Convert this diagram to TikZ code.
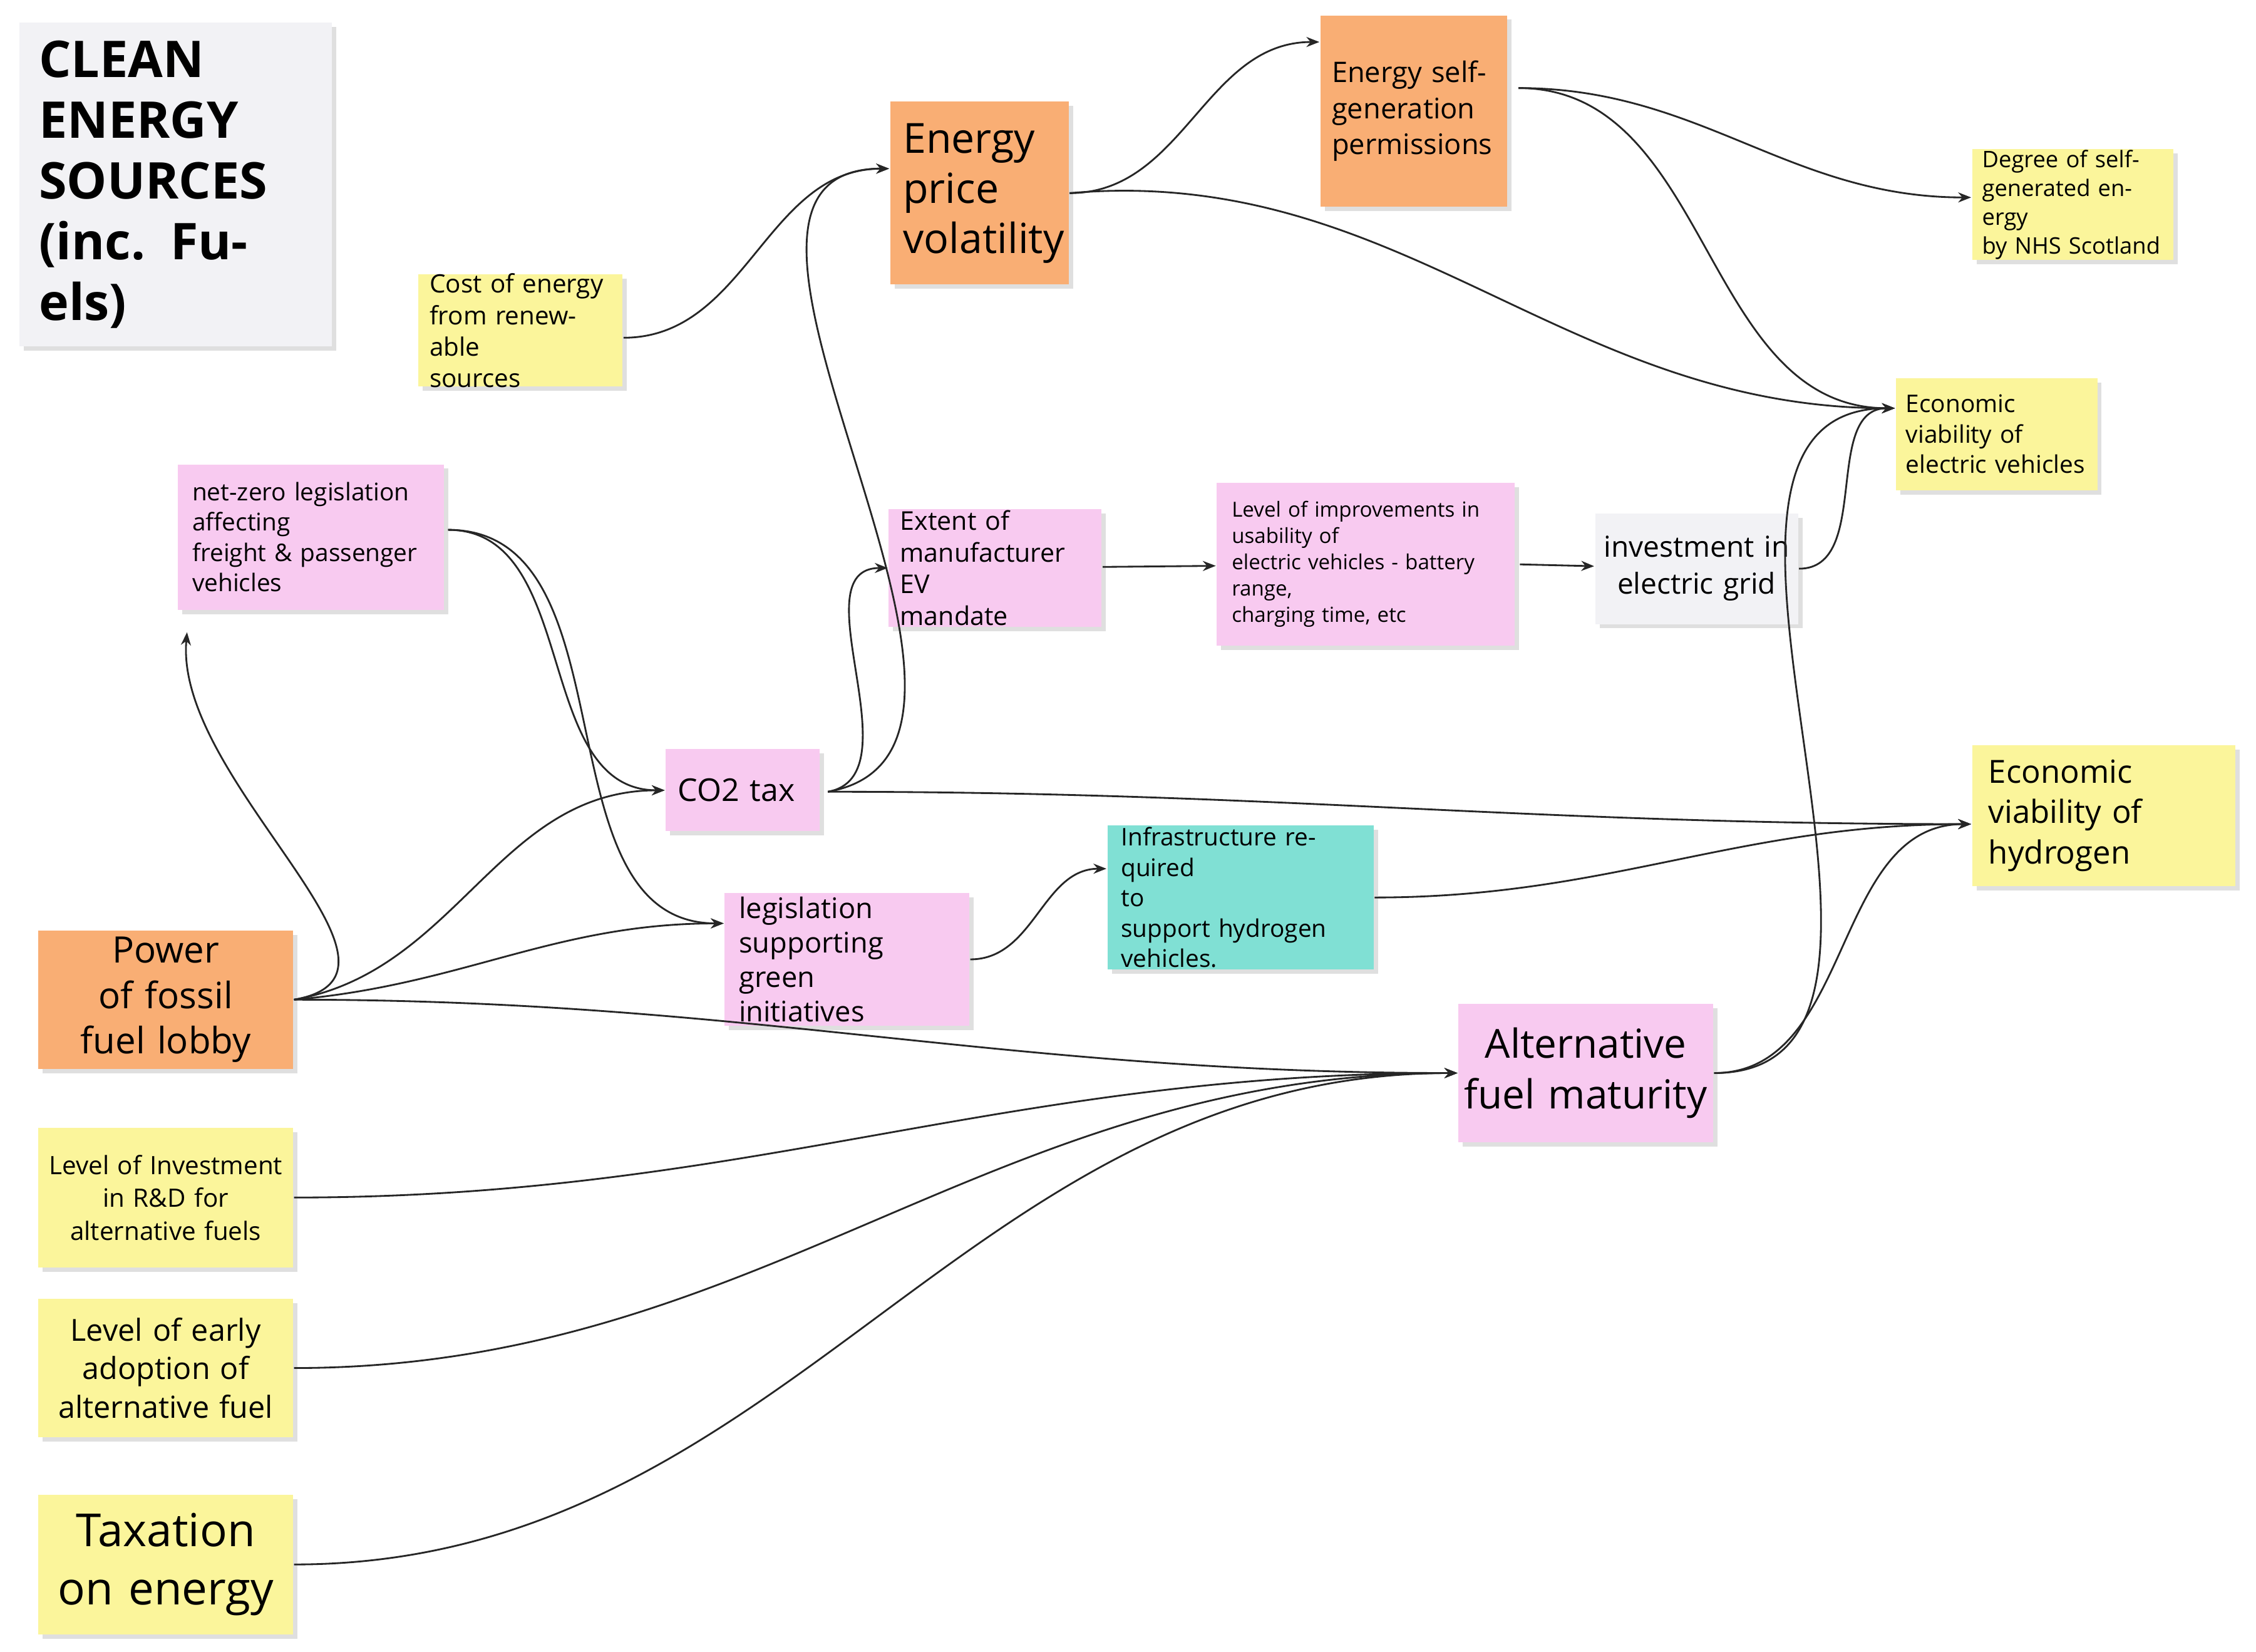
\documentclass[tikz,border=0pt]{standalone}
\usepackage{fontspec}
\setmainfont{Open Sans}
\usetikzlibrary{shadows,arrows.meta}
\definecolor{yel}{HTML}{FBF59B}
\definecolor{org}{HTML}{F9AE74}
\definecolor{pnk}{HTML}{F8CAF0}
\definecolor{gry}{HTML}{F2F2F5}
\definecolor{tea}{HTML}{80E0D4}
\tikzset{
 box/.style={draw=none, inner sep=0pt, anchor=north west, drop shadow={opacity=0.25,shadow xshift=0.03cm,shadow yshift=-0.03cm}, text=black!85},
 ar/.style={-{Stealth[length=0.09cm,width=0.07cm]}, line width=0.35pt, black!85},
 fs/.style n args={2}{font=\fontsize{#1}{#2}\selectfont}
}
\newcommand{\bx}[8]{% name, fill, x1,y1,x2,y2, opts, text
 \node[box,fill=#2,minimum width=#5cm-#3cm,minimum height=#6cm-#4cm] (#1) at (#3,#4) {};
 \node[#7] at (#1.center) {#8};}
\begin{document}
\begin{tikzpicture}[x=0.01cm,y=-0.01cm]
\useasboundingbox[fill=white] (0,0) rectangle (1568,1148);
\def\B#1#2#3#4#5#6#7#8{\node[box,fill=#2,minimum width={(#5-#3)*0.01cm},minimum height={(#6-#4)*0.01cm}] (#1) at (#3,#4) {};
 \node[#7] at (#1.center) {#8};}
\B{title}{gry}{13}{15}{230}{240}{fs={11.5}{13.6},font=\bfseries,align=left,text width=1.9cm}{CLEAN\\ENERGY\\SOURCES\\(inc. Fuels)}
\B{cost}{yel}{290}{190}{432}{268}{fs={5}{6.2},align=left,text width=1.26cm}{Cost of energy\\from renewable\\sources}
\B{epv}{org}{618}{70}{742}{197}{fs={8.2}{9.9},align=left,text width=1.06cm}{Energy\\price\\volatility}
\B{esg}{org}{917}{10}{1047}{143}{fs={5.6}{7.1},align=left,text width=1.14cm}{Energy self-\\generation\\permissions}
\B{deg}{yel}{1370}{103}{1510}{180}{fs={4.5}{5.7},align=left,text width=1.26cm}{Degree of self-\\generated energy\\by NHS Scotland}
\B{ecoev}{yel}{1317}{262}{1457}{340}{fs={4.8}{6},align=left,text width=1.26cm}{Economic\\viability of\\electric vehicles}
\B{nz}{pnk}{123}{322}{308}{423}{fs={4.8}{6},align=left,text width=1.65cm}{net-zero legislation\\affecting\\freight \& passenger\\vehicles}
\B{ext}{pnk}{617}{353}{765}{435}{fs={5.1}{6.3},align=left,text width=1.32cm}{Extent of\\manufacturer EV\\mandate}
\B{lvl}{pnk}{845}{335}{1052}{448}{fs={4.1}{5.2},align=left,text width=1.86cm}{Level of improvements in\\usability of\\electric vehicles - battery\\range,\\charging time, etc}
\B{inv}{gry}{1108}{356}{1249}{433}{fs={5.7}{7.3},align=center,text width=1.3cm}{investment in\\electric grid}
\B{co2}{pnk}{462}{520}{569}{577}{fs={6.2}{7.5},align=left,text width=0.9cm}{CO2 tax}
\B{ecoh}{yel}{1370}{517}{1553}{615}{fs={6.3}{8},align=left,text width=1.6cm}{Economic\\viability of\\hydrogen}
\B{inf}{tea}{769}{573}{954}{673}{fs={4.8}{6},align=left,text width=1.66cm}{Infrastructure required\\to\\support hydrogen\\vehicles.}
\B{leg}{pnk}{503}{620}{673}{712}{fs={5.6}{6.8},align=left,text width=1.5cm}{legislation\\supporting green\\initiatives}
\B{pow}{org}{26}{646}{203}{742}{fs={7.2}{9},align=center,text width=1.7cm}{Power of fossil\\fuel lobby}
\B{alt}{pnk}{1013}{697}{1190}{793}{fs={7.9}{10},align=center,text width=1.7cm}{Alternative\\fuel maturity}
\B{rd}{yel}{26}{783}{203}{880}{fs={5}{6.5},align=center,text width=1.7cm}{Level of Investment\\in R\&D for\\alternative fuels}
\B{ea}{yel}{26}{902}{203}{998}{fs={6}{7.6},align=center,text width=1.7cm}{Level of early\\adoption of\\alternative fuel}
\B{tax}{yel}{26}{1038}{203}{1135}{fs={9}{11.5},align=center,text width=1.7cm}{Taxation\\on energy}

\draw[ar] ([yshift=-0.05cm]cost.east) to[out=0,in=180] ([yshift=0.17cm]epv.west);
\draw[ar] ([yshift=0.0cm]epv.east) ++(0.05,0) coordinate (e1) to[out=0,in=180] ([yshift=0.48cm]esg.west);
\draw[ar] (e1) to[out=5,in=180] ([yshift=0.18cm]ecoev.west);
\coordinate (s1) at ([xshift=0.07cm,yshift=0.16cm]esg.east);
\draw[ar] (s1) to[out=0,in=180] ([yshift=0.05cm]deg.west);
\draw[ar] (s1) to[out=0,in=180] ([yshift=0.18cm]ecoev.west);
\coordinate (n1) at ([xshift=0.02cm,yshift=0.05cm]nz.east);
\draw[ar] (n1) to[out=0,in=180] (co2.west);
\draw[ar] (n1) to[out=0,in=180] ([yshift=0.25cm]leg.west);
\coordinate (p1) at (pow.east);
\draw[ar] (p1) to[out=10,in=-95] ([xshift=0.07cm,yshift=-0.15cm]nz.south west);
\draw[ar] (p1) to[out=10,in=180] (co2.west);
\draw[ar] (p1) to[out=5,in=180] ([yshift=0.25cm]leg.west);
\draw[ar] (p1) to[out=0,in=180] (alt.west);
\coordinate (c1) at ([xshift=0.05cm,yshift=-0.01cm]co2.east);
\draw[ar] (c1) to[out=10,in=180] ([yshift=0.17cm]epv.west);
\draw[ar] (c1) to[out=10,in=180] (ext.west);
\draw[ar] (c1) to[out=0,in=180] ([yshift=-0.06cm]ecoh.west);
\draw[ar] (ext) -- (lvl);
\draw[ar] ([xshift=0.03cm]lvl.east) -- (inv);
\draw[ar] (inv.east) to[out=0,in=180] ([yshift=0.18cm]ecoev.west);
\draw[ar] (leg.east) to[out=0,in=180] ([yshift=0.2cm]inf.west);
\draw[ar] (inf.east) to[out=0,in=180] ([yshift=-0.06cm]ecoh.west);
\draw[ar] (alt.east) to[out=0,in=180] ([yshift=0.18cm]ecoev.west);
\draw[ar] (alt.east) to[out=0,in=180] ([yshift=-0.06cm]ecoh.west);
\draw[ar] (rd.east) to[out=0,in=180] (alt.west);
\draw[ar] (ea.east) to[out=0,in=180] (alt.west);
\draw[ar] (tax.east) to[out=0,in=180] (alt.west);
\end{tikzpicture}
\end{document}
